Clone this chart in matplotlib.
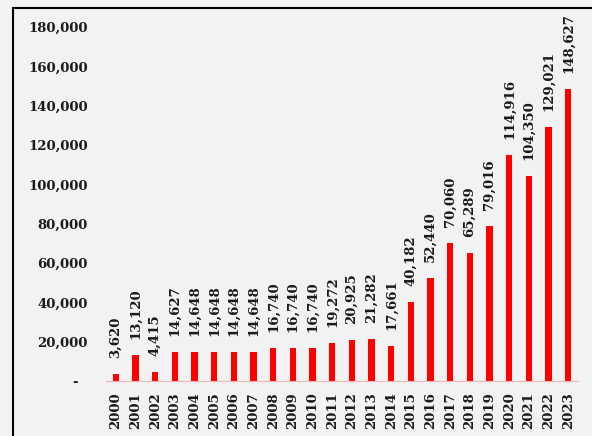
import matplotlib.pyplot as plt
from matplotlib.patches import Rectangle
from matplotlib.ticker import FuncFormatter

# yearly totals
years = [str(y) for y in range(2000, 2024)]
values = [3620, 13120, 4415, 14627, 14648, 14648, 14648, 14648, 16740, 16740,
          16740, 19272, 20925, 21282, 17661, 40182, 52440, 70060, 65289, 79016,
          114916, 104350, 129021, 148627]
yticks = list(range(0, 180001, 20000))

font = dict(family='DejaVu Serif', weight='bold', size=9.5)

fig = plt.figure(figsize=(5.92, 4.36), dpi=100, facecolor='#f2f2f2')
ax = fig.add_axes([106 / 592, 55 / 436, 472 / 592, 354 / 436])
ax.set_facecolor('none')

x = range(len(years))
ax.bar(x, values, width=0.33, color='#ff0000', zorder=2)

# value labels above each bar
for i, v in enumerate(values):
    ax.annotate(f'{v:,}', (i, v), xytext=(0, 11.5), textcoords='offset points',
                rotation=90, ha='center', va='bottom', color='#1a1a1a', **font)

ax.set_xlim(-0.5, len(years) - 0.5)
ax.set_ylim(0, 180000)
ax.set_yticks(yticks)
ax.yaxis.set_major_formatter(FuncFormatter(lambda v, p: '-  ' if v == 0 else f'{int(v):,}'))
ax.set_xticks(list(x))
ax.set_xticklabels(years, rotation=90)

for lbl in ax.get_yticklabels() + ax.get_xticklabels():
    lbl.set_fontfamily(font['family'])
    lbl.set_fontweight(font['weight'])
    lbl.set_fontsize(font['size'])
    lbl.set_color('#1a1a1a')

ax.tick_params(axis='y', length=0, pad=13)
ax.tick_params(axis='x', length=0, pad=8)
for side in ['top', 'right', 'left']:
    ax.spines[side].set_visible(False)
ax.spines['bottom'].set_color('#f5b5b5')
ax.spines['bottom'].set_linewidth(0.8)

# outer frame
fig.patches.append(Rectangle((12.5 / 592, -0.2), 1.2, 1.2 - 7.5 / 436,
                             transform=fig.transFigure, fill=False,
                             edgecolor='black', linewidth=1.5))

fig.savefig('out.png', dpi=100, facecolor=fig.get_facecolor())
